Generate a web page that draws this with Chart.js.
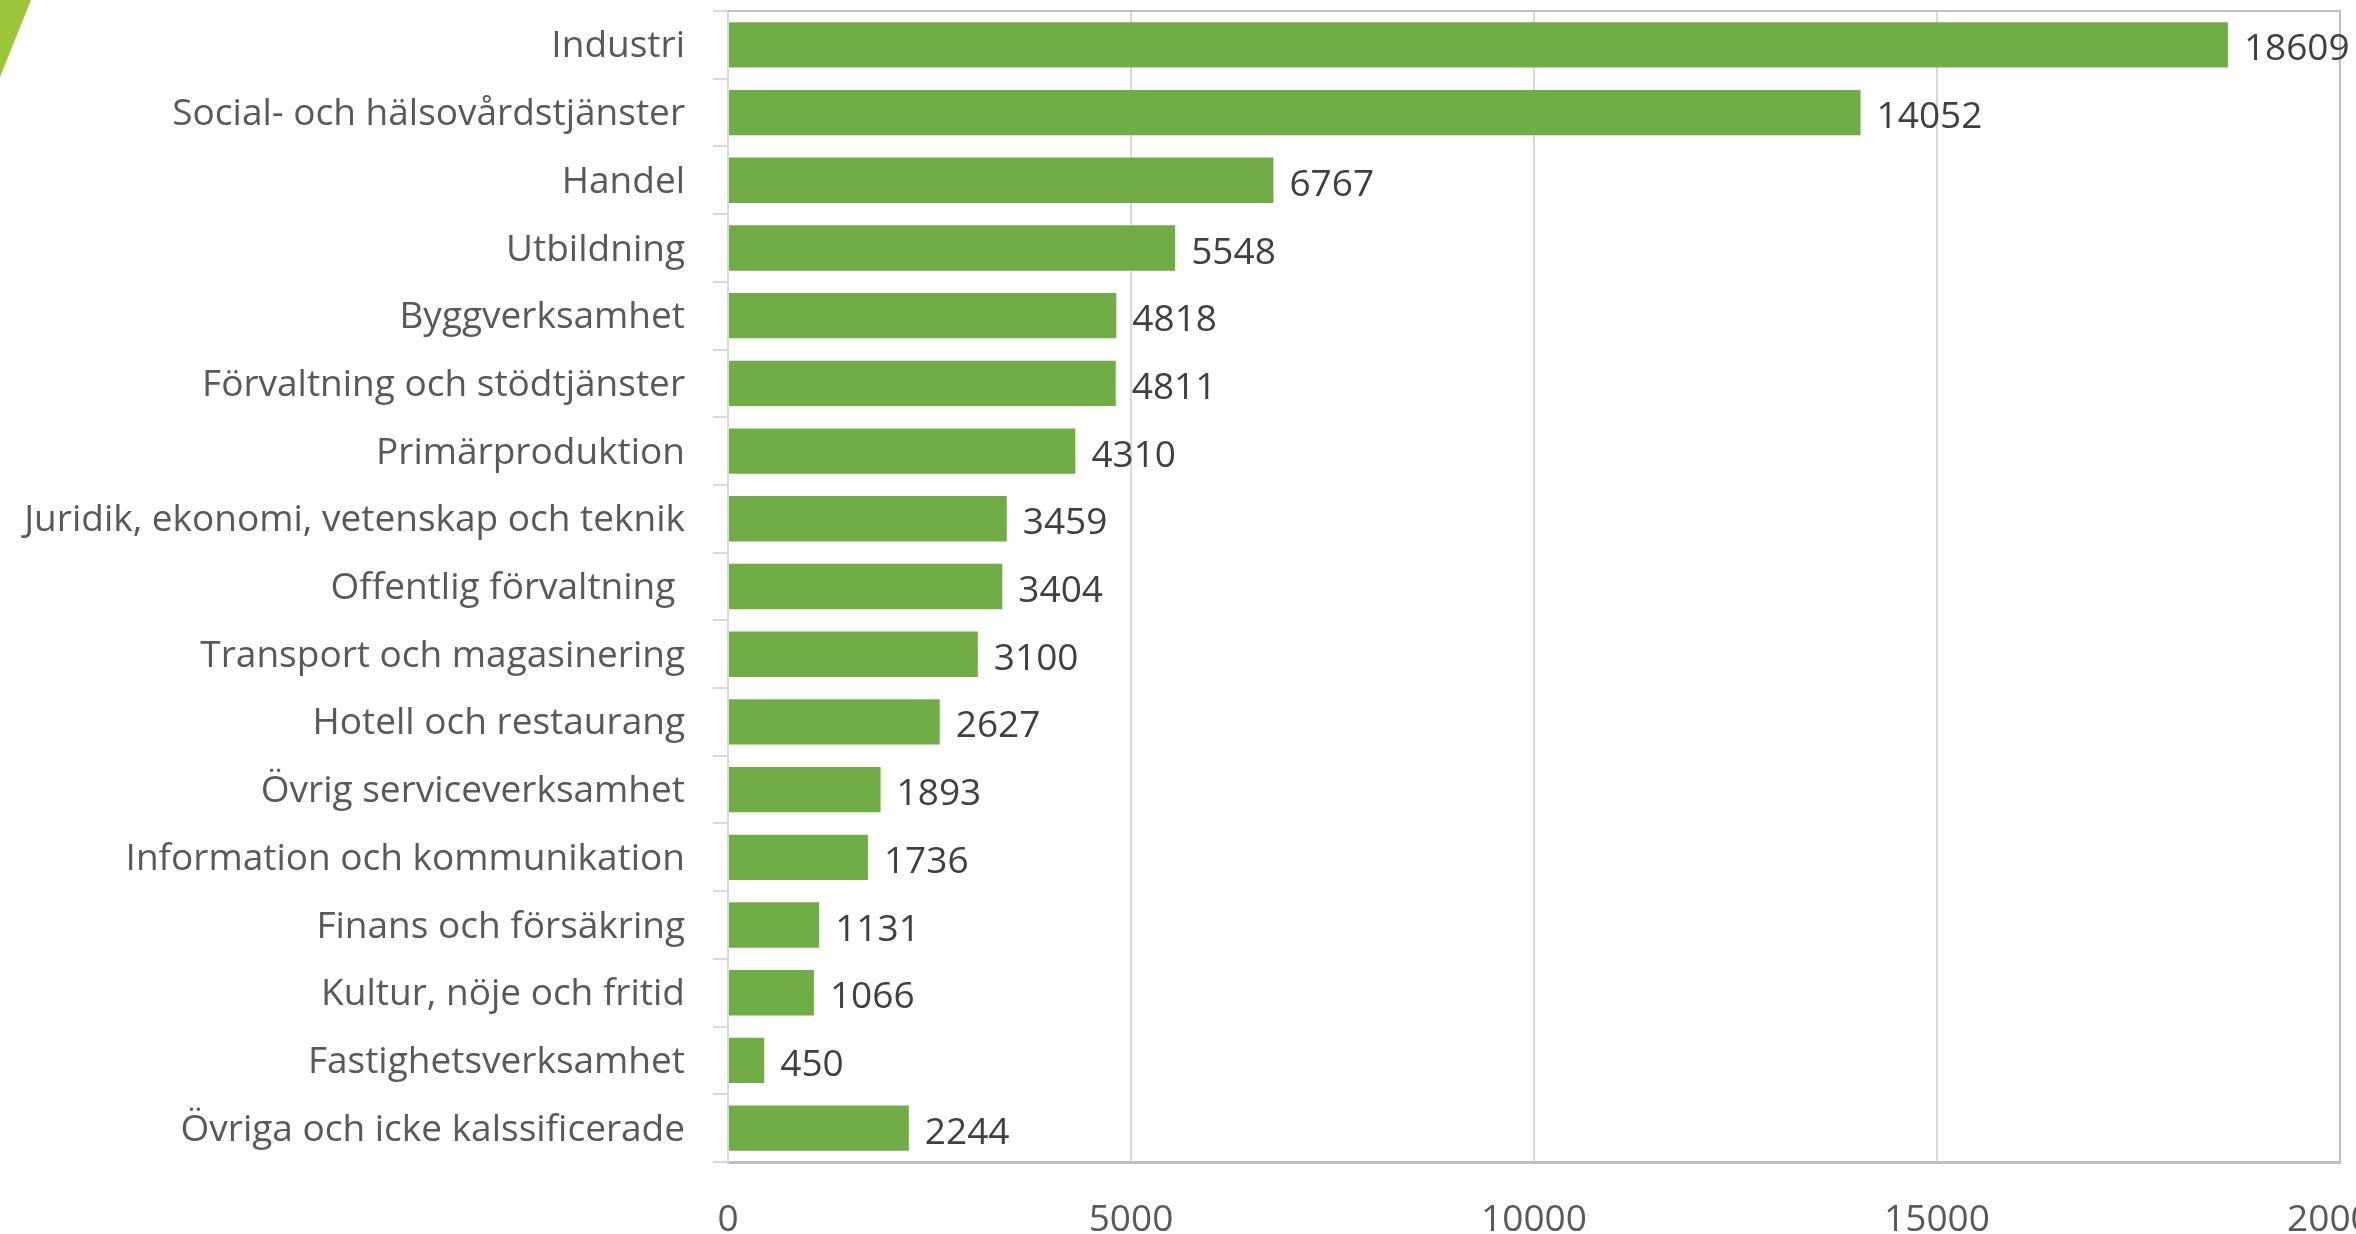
<!DOCTYPE html>
<html>
<head>
<meta charset="utf-8">
<script src="https://cdn.jsdelivr.net/npm/chart.js@4"></script>
<style>
html,body{margin:0;padding:0;background:#fff;}
#wrap{position:relative;width:2356px;height:1234px;}
#tri{position:absolute;left:0;top:0;width:31px;height:77px;background:#9dc73b;clip-path:polygon(0 0,100% 0,0 100%);}
canvas{position:absolute;left:0;top:0;}
</style>
</head>
<body>
<div id="wrap">
<canvas id="c" width="2356" height="1234"></canvas>
<div id="tri"></div>
</div>
<script>
const categories = [
  "Industri",
  "Social- och hälsovårdstjänster",
  "Handel",
  "Utbildning",
  "Byggverksamhet",
  "Förvaltning och stödtjänster",
  "Primärproduktion",
  "Juridik, ekonomi, vetenskap och teknik",
  "Offentlig förvaltning ",
  "Transport och magasinering",
  "Hotell och restaurang",
  "Övrig serviceverksamhet",
  "Information och kommunikation",
  "Finans och försäkring",
  "Kultur, nöje och fritid",
  "Fastighetsverksamhet",
  "Övriga och icke kalssificerade"
];
const values = [18609, 14052, 6767, 5548, 4818, 4811, 4310, 3459, 3404, 3100, 2627, 1893, 1736, 1131, 1066, 450, 2244];
const xMin = 0, xMax = 20000, xStep = 5000;

const FONT = "'Open Sans', sans-serif";

const valueLabels = {
  id: 'valueLabels',
  afterDatasetsDraw(chart) {
    const ctx = chart.ctx;
    const meta = chart.getDatasetMeta(0);
    ctx.save();
    ctx.font = "37px " + FONT;
    ctx.fillStyle = "#404040";
    ctx.textAlign = "left";
    ctx.textBaseline = "middle";
    meta.data.forEach((bar, i) => {
      ctx.fillText(String(chart.data.datasets[0].data[i]), bar.x + 16, bar.y + 5);
    });
    ctx.restore();
  }
};

const frame = {
  id: 'frame',
  beforeDatasetsDraw(chart) {
    const a = chart.chartArea, ctx = chart.ctx;
    ctx.save();
    ctx.strokeStyle = "#bfbfbf";
    ctx.lineWidth = 2;
    ctx.beginPath();
    ctx.moveTo(a.left, a.top);
    ctx.lineTo(a.right, a.top);
    ctx.lineTo(a.right, a.bottom);
    ctx.stroke();
    ctx.restore();
  }
};

new Chart(document.getElementById('c'), {
  type: 'bar',
  data: {
    labels: categories,
    datasets: [{
      data: values,
      backgroundColor: '#70ad47',
      borderWidth: 0,
      barPercentage: 0.67,
      categoryPercentage: 1.0
    }]
  },
  options: {
    indexAxis: 'y',
    responsive: false,
    animation: false,
    devicePixelRatio: 1,
    layout: { padding: { top: 11, right: 16, left: 0, bottom: 0 } },
    plugins: { legend: { display: false }, tooltip: { enabled: false } },
    scales: {
      x: {
        min: xMin, max: xMax,
        ticks: { stepSize: xStep, font: { family: FONT, size: 37 }, color: '#595959', padding: 36, maxRotation: 0,
                 callback: v => String(v) },
        grid: { color: '#d9d9d9', lineWidth: 2, drawTicks: false },
        border: { color: '#bfbfbf', width: 3 },
        afterFit(s) { s.height = 72; s.paddingLeft = 0; s.paddingRight = 0; }
      },
      y: {
        ticks: { font: { family: FONT, size: 37 }, color: '#595959', padding: 28, autoSkip: false, labelOffset: 2 },
        grid: { color: '#d9d9d9', lineWidth: 2, drawOnChartArea: false, tickLength: 15, offset: true },
        border: { color: '#d9d9d9', width: 2 },
        afterFit(s) { s.width = 728; s.paddingTop = 0; s.paddingBottom = 0; }
      }
    }
  },
  plugins: [frame, valueLabels]
});
</script>
</body>
</html>
